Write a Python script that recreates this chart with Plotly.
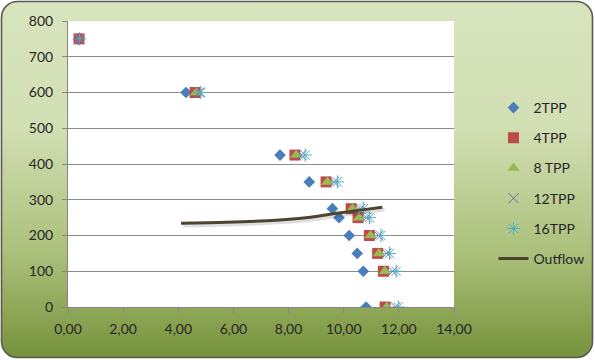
import base64
import plotly.graph_objects as go

# ---- data ----
y_levels = [750, 600, 425, 350, 275, 250, 200, 150, 100, 0]
tpp2_x = [0.38, 4.28, 7.69, 8.75, 9.59, 9.83, 10.20, 10.49, 10.71, 10.81]
tpp4_x = [0.40, 4.61, 8.23, 9.36, 10.27, 10.52, 10.93, 11.23, 11.44, 11.50]
tpp8_y = [600, 425, 350, 275, 250, 200, 150, 100, 0]
tpp8_x = [4.65, 8.28, 9.41, 10.32, 10.56, 10.97, 11.28, 11.49, 11.56]
tpp12_x = [0.41, 4.76, 8.47, 9.66, 10.60, 10.82, 11.26, 11.56, 11.78, 11.88]
tpp16_x = [0.42, 4.82, 8.60, 9.77, 10.71, 10.93, 11.35, 11.66, 11.90, 11.98]
outflow_x = [4.1, 5.75, 7.55, 8.8, 9.75, 10.6, 11.4]
outflow_y = [234, 237, 243, 251, 262, 271, 279]
x_ticks = [0, 2, 4, 6, 8, 10, 12, 14]
y_ticks = [0, 100, 200, 300, 400, 500, 600, 700, 800]

W, H = 595, 360
L, R, T, B = 68, 141, 21, 53
pw, ph = W - L - R, H - T - B

FONT = "Lato"
TXT = "#262626"

svg = f'''<svg xmlns="http://www.w3.org/2000/svg" width="{W}" height="{H}" viewBox="0 0 {W} {H}">
<defs><linearGradient id="g" x1="0" y1="0" x2="0" y2="1">
<stop offset="0" stop-color="#d8e4bd"/>
<stop offset="0.35" stop-color="#d2dfb3"/>
<stop offset="0.7" stop-color="#acc17c"/>
<stop offset="1" stop-color="#76923b"/>
</linearGradient></defs>
<rect x="1.5" y="1.5" width="{W-4}" height="{H-4}" rx="16" ry="16" fill="url(#g)" stroke="#5a5a50" stroke-width="1.6"/>
</svg>'''
src = "data:image/svg+xml;base64," + base64.b64encode(svg.encode()).decode()

fig = go.Figure()

fig.add_trace(go.Scatter(x=tpp2_x, y=y_levels, mode="markers", name="2TPP", legendgroup="a",
                         marker=dict(symbol="diamond", size=9, color="#4a7ebb")))
fig.add_trace(go.Scatter(x=tpp4_x, y=y_levels, mode="markers", name="4TPP", legendgroup="b",
                         marker=dict(symbol="square", size=11, color="#be4b48")))
fig.add_trace(go.Scatter(x=tpp8_x, y=tpp8_y, mode="markers", name="8 TPP", legendgroup="c",
                         marker=dict(symbol="triangle-up", size=11, color="#98b954")))
fig.add_trace(go.Scatter(x=tpp12_x, y=y_levels, mode="markers", name="12TPP", legendgroup="d",
                         marker=dict(symbol="x-thin-open", size=10, color="#8064a2",
                                     line=dict(width=1, color="#8064a2"))))
fig.add_trace(go.Scatter(x=tpp16_x, y=y_levels, mode="markers", name="16TPP", legendgroup="e",
                         marker=dict(symbol="asterisk-open", size=11, color="#4bacc6",
                                     line=dict(width=1, color="#4bacc6"))))
# soft shadow of the outflow curve
fig.add_trace(go.Scatter(x=[v + 0.08 for v in outflow_x], y=[v - 6 for v in outflow_y],
                         mode="lines", showlegend=False, legendgroup="f", hoverinfo="skip",
                         line=dict(color="rgba(0,0,0,0.13)", width=4, shape="spline")))
fig.add_trace(go.Scatter(x=outflow_x, y=outflow_y, mode="lines", name="Outflow", legendgroup="f",
                         line=dict(color="#4b4530", width=3, shape="spline")))

fig.update_layout(
    width=W, height=H, autosize=False,
    margin=dict(l=L, r=R, t=T, b=B, pad=0, autoexpand=False),
    paper_bgcolor="white", plot_bgcolor="white",
    font=dict(family=FONT, size=14, color=TXT),
    separators=", ",
    showlegend=True,
    legend=dict(xref="container", yref="container", x=493.5 / W, y=1 - 92 / H,
                xanchor="left", yanchor="top", maxheight=340,
                bgcolor="rgba(0,0,0,0)", font=dict(family=FONT, size=14, color=TXT),
                traceorder="grouped", tracegroupgap=9, itemwidth=30),
    images=[dict(source=src, xref="paper", yref="paper", x=-L / pw, y=1 + T / ph,
                 sizex=W / pw, sizey=H / ph, xanchor="left", yanchor="top",
                 sizing="stretch", layer="below")],
    shapes=[dict(type="rect", xref="paper", yref="paper", x0=0, x1=1, y0=0, y1=1,
                 fillcolor="white", line=dict(width=0), layer="below")],
)
fig.update_xaxes(range=[0, 14], tickvals=x_ticks, tickformat=".2f", showgrid=False,
                 zeroline=False, showline=True, linecolor="#868686", linewidth=1,
                 ticks="outside", ticklen=5, tickcolor="#868686",
                 tickfont=dict(family=FONT, size=14, color=TXT), ticklabelstandoff=4)
fig.update_yaxes(range=[0, 800], tickvals=y_ticks, showgrid=True, gridcolor="#8c8c8c",
                 gridwidth=1, zeroline=False, showline=True, linecolor="#868686", linewidth=1,
                 ticks="outside", ticklen=5, tickcolor="#868686",
                 tickfont=dict(family=FONT, size=14, color=TXT), ticklabelstandoff=6)

fig.write_html(
    "out.html",
    config={"displayModeBar": False, "responsive": False},
    post_script=(
        "document.documentElement.style.overflow='hidden';"
        "document.body.style.overflow='hidden';"
        "document.body.style.margin='0';"
    ),
)
